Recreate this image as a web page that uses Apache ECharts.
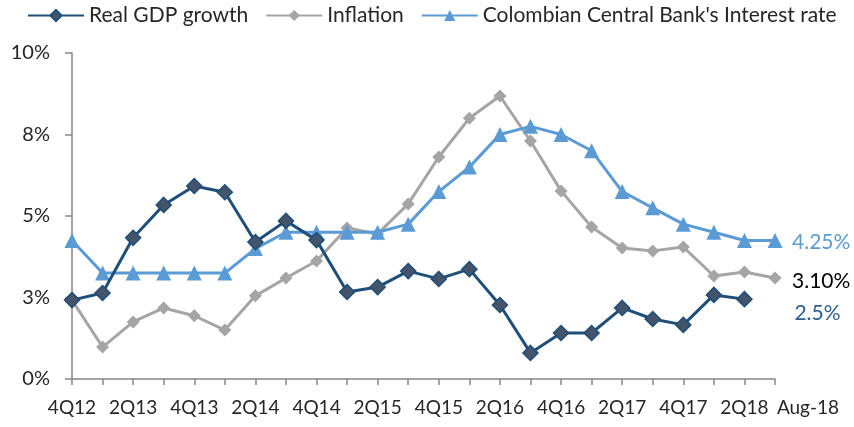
<!DOCTYPE html>
<html>
<head>
<meta charset="utf-8">
<script src="https://cdn.jsdelivr.net/npm/echarts@6/dist/echarts.min.js"></script>
<style>
  html, body { margin: 0; padding: 0; background: #fff; }
  #chart { width: 854px; height: 427px; }
</style>
</head>
<body>
<div id="chart"></div>
<script>
/* -------------------------------------------------------------------------- */
/* Colombia: GDP growth, inflation and policy rate */
var categories = ['4Q12', '1Q13', '2Q13', '3Q13', '4Q13', '1Q14', '2Q14', '3Q14',
  '4Q14', '1Q15', '2Q15', '3Q15', '4Q15', '1Q16', '2Q16', '3Q16', '4Q16', '1Q17',
  '2Q17', '3Q17', '4Q17', '1Q18', '2Q18', 'Aug-18'];

var gdpGrowth = [2.42, 2.64, 4.33, 5.34, 5.92, 5.73, 4.2, 4.85, 4.26, 2.67, 2.82, 3.31,
  3.07, 3.37, 2.27, 0.8, 1.41, 1.41, 2.18, 1.84, 1.66, 2.58, 2.45];

var inflation = [2.42, 0.98, 1.75, 2.18, 1.94, 1.5, 2.55, 3.1, 3.62, 4.63, 4.45, 5.37,
  6.81, 8.0, 8.68, 7.3, 5.77, 4.66, 4.02, 3.93, 4.05, 3.16, 3.28, 3.1];

var interestRate = [4.25, 3.25, 3.25, 3.25, 3.25, 3.25, 4.0, 4.5, 4.5, 4.5, 4.5, 4.75,
  5.75, 6.5, 7.5, 7.75, 7.5, 7.0, 5.75, 5.25, 4.75, 4.5, 4.25, 4.25];

var seriesNames = ['Real GDP growth', 'Inflation', "Colombian Central Bank's Interest rate"];
var endLabels = ['2.5%', '3.10%', '4.25%'];
var yTickLabels = ['0%', '3%', '5%', '8%', '10%'];

var FONT = 'Lato';
var AXIS_GRAY = '#868686';

var chart = echarts.init(document.getElementById('chart'), null, { renderer: 'canvas' });

var lastIndex = categories.length - 1;

var option = {
  animation: false,
  textStyle: { fontFamily: FONT },
  legend: {
    left: 22,
    top: 0,
    itemWidth: 56,
    itemHeight: 14,
    itemGap: 17,
    textStyle: { fontFamily: FONT, fontSize: 21, color: '#262626' },
    data: seriesNames
  },
  grid: { left: 72, right: 79, top: 53, bottom: 48 },
  xAxis: {
    type: 'category',
    data: categories,
    boundaryGap: false,
    axisLine: { lineStyle: { color: AXIS_GRAY, width: 1.5 } },
    axisTick: { show: true, interval: 0, length: 6, lineStyle: { color: AXIS_GRAY, width: 1.5 } },
    axisLabel: {
      interval: function (index) {
        return index % 2 === 0 || index === lastIndex;
      },
      margin: 19,
      fontFamily: FONT,
      fontSize: 19,
      color: '#262626',
      formatter: function (value, index) {
        // last label sits to the right of its tick, like the original
        if (index === lastIndex) {
          return '{last|' + value + '}';
        }
        return value;
      },
      rich: {
        last: { fontFamily: FONT, fontSize: 19, color: '#262626', padding: [0, 0, 0, 66] }
      }
    },
    splitLine: { show: false }
  },
  yAxis: {
    type: 'value',
    min: 0,
    max: 10,
    interval: 2.5,
    axisLine: { show: true, lineStyle: { color: AXIS_GRAY, width: 1.5 } },
    axisTick: { show: true, length: 7, lineStyle: { color: AXIS_GRAY, width: 1.5 } },
    axisLabel: {
      margin: 22,
      fontFamily: FONT,
      fontSize: 20,
      color: '#262626',
      formatter: function (value) {
        return yTickLabels[Math.round(value / 2.5)];
      }
    },
    splitLine: { show: false }
  },
  series: [{
    name: seriesNames[0],
    type: 'line',
    data: gdpGrowth,
    symbol: 'diamond',
    symbolSize: 15,
    z: 4,
    lineStyle: { color: '#1F4E79', width: 3 },
    itemStyle: { color: '#44546A', borderColor: '#1F4E79', borderWidth: 1.5 },
    endLabel: {
      show: true,
      formatter: endLabels[0],
      fontFamily: FONT,
      fontSize: 21,
      color: '#2E5E8E',
      distance: 0,
      offset: [50, 14]
    }
  }, {
    name: seriesNames[1],
    type: 'line',
    data: inflation,
    symbol: 'diamond',
    symbolSize: 13,
    z: 2,
    lineStyle: { color: '#A5A5A5', width: 3 },
    itemStyle: { color: '#A5A5A5' },
    endLabel: {
      show: true,
      formatter: endLabels[1],
      fontFamily: FONT,
      fontSize: 21,
      color: '#000000',
      distance: 0,
      offset: [17, 3]
    }
  }, {
    name: seriesNames[2],
    type: 'line',
    data: interestRate,
    symbol: 'triangle',
    symbolSize: 15,
    z: 3,
    lineStyle: { color: '#5B9BD5', width: 3 },
    itemStyle: { color: '#5B9BD5' },
    endLabel: {
      show: true,
      formatter: endLabels[2],
      fontFamily: FONT,
      fontSize: 21,
      color: '#5B9BD5',
      distance: 0,
      offset: [17, 2]
    }
  }]
};

chart.setOption(option);
/* -------------------------------------------------------------------------- */
</script>
</body>
</html>
